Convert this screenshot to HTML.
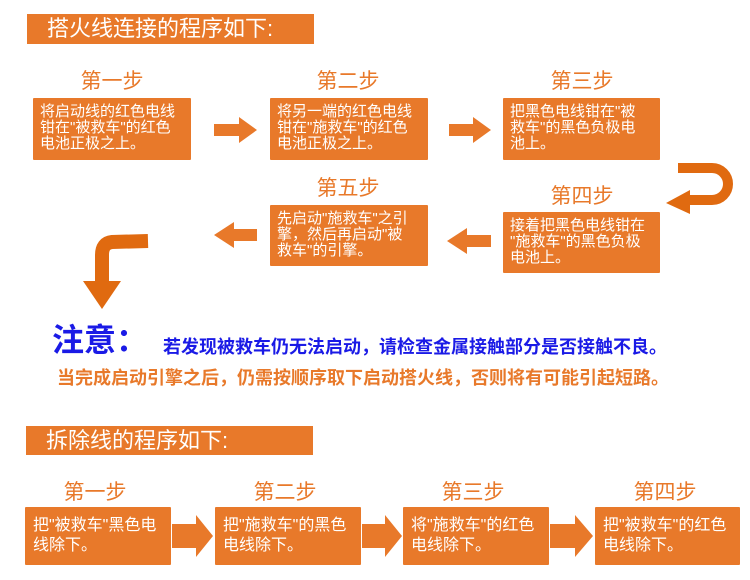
<!DOCTYPE html>
<html><head><meta charset="utf-8"><style>
body{margin:0;width:750px;height:580px;background:#fff;position:relative;overflow:hidden;font-family:"Liberation Sans","Noto Sans CJK SC",sans-serif}
.ban{position:absolute;background:#e8792a;color:#fff;font-size:22px;line-height:30px;padding-left:20px;box-sizing:border-box}
.lab{position:absolute;color:#e8792a;font-size:21px;text-align:center;width:160px;line-height:24px}
.box{position:absolute;background:#e8792a;color:#fff;font-size:15px;line-height:16px;padding:6px 7px;box-sizing:border-box;border-radius:1px;white-space:nowrap}
.b2{font-size:16px;line-height:20px;padding:9px 8px}
svg{position:absolute;left:0;top:0}
</style></head><body>
<div class="ban" style="left:27px;top:14px;width:287px;height:30px">搭火线连接的程序如下:</div>
<div class="lab" style="left:32px;top:70px">第一步</div>
<div class="lab" style="left:268px;top:70px">第二步</div>
<div class="lab" style="left:502px;top:70px">第三步</div>
<div class="lab" style="left:502px;top:185px">第四步</div>
<div class="lab" style="left:268px;top:177px">第五步</div>
<div class="box" style="left:33px;top:98px;width:158px;height:62px">将启动线的红色电线<br>钳在"被救车"的红色<br>电池正极之上。</div>
<div class="box" style="left:270px;top:98px;width:158px;height:62px">将另一端的红色电线<br>钳在"施救车"的红色<br>电池正极之上。</div>
<div class="box" style="left:503px;top:98px;width:157px;height:62px">把黑色电线钳在"被<br>救车"的黑色负极电<br>池上。</div>
<div class="box" style="left:503px;top:212px;width:157px;height:61px">接着把黑色电线钳在<br>"施救车"的黑色负极<br>电池上。</div>
<div class="box" style="left:270px;top:205px;width:158px;height:61px">先启动"施救车"之引<br>擎，然后再启动"被<br>救车"的引擎。</div>
<svg width="750" height="580">
<g fill="#e8792a">
<polygon points="214,124 239,124 239,117 257,130 239,143 239,136 214,136"/>
<polygon points="449,124 473,124 473,117 491,130 473,143 473,136 449,136"/>
<polygon points="491,235 467,235 467,228 447,241 467,254 467,247 491,247"/>
<polygon points="257,229 234,229 234,222 214,235 234,248 234,241 257,241"/>
<polygon points="196,524 196,515 213,536 196,557 196,548 172,548 172,524"/>
<polygon points="385,524 385,515 402,536 385,557 385,548 362,548 362,524"/>
<polygon points="575,524 575,515 593,536 575,557 575,548 550,548 550,524"/>
</g>
<path d="M678,168 L712,168 A16,16 0 0 1 712,200 L688,200" fill="none" stroke="#e06a10" stroke-width="10"/>
<polygon points="666,203 690,190 690,214" fill="#e06a10"/>
<path d="M148,241 L112,242 Q102,243 102,255 L102,282" fill="none" stroke="#e06a10" stroke-width="14"/>
<polygon points="83,281 121,281 102,309" fill="#e06a10"/>
</svg>
<div style="position:absolute;left:52px;top:320px;color:#1a1ae6;font-size:32px;font-weight:bold;line-height:40px">注意：</div>
<div style="position:absolute;left:163px;top:336px;color:#1a1ae6;font-size:18px;font-weight:bold;line-height:22px;white-space:nowrap">若发现被救车仍无法启动，请检查金属接触部分是否接触不良。</div>
<div style="position:absolute;left:57px;top:367px;color:#e8792a;font-size:18px;font-weight:bold;line-height:22px;white-space:nowrap">当完成启动引擎之后，仍需按顺序取下启动搭火线，否则将有可能引起短路。</div>
<div class="ban" style="left:26px;top:426px;width:287px;height:29px;line-height:29px">拆除线的程序如下:</div>
<div class="lab" style="left:15px;top:481px">第一步</div>
<div class="lab" style="left:205px;top:481px">第二步</div>
<div class="lab" style="left:393px;top:481px">第三步</div>
<div class="lab" style="left:585px;top:481px">第四步</div>
<div class="box b2" style="left:25px;top:507px;width:146px;height:58px">把"被救车"黑色电<br>线除下。</div>
<div class="box b2" style="left:215px;top:507px;width:146px;height:58px">把"施救车"的黑色<br>电线除下。</div>
<div class="box b2" style="left:403px;top:507px;width:146px;height:58px">将"施救车"的红色<br>电线除下。</div>
<div class="box b2" style="left:595px;top:507px;width:145px;height:58px">把"被救车"的红色<br>电线除下。</div>
</body></html>
